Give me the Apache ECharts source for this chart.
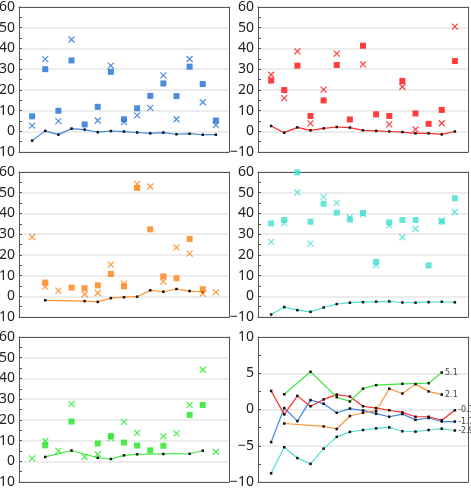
<!DOCTYPE html>
<html>
<head>
<meta charset="utf-8">
<script src="https://cdn.jsdelivr.net/npm/echarts@6/dist/echarts.min.js"></script>
<style>
  html, body { margin: 0; padding: 0; background: #fff; }
  #chart { width: 471px; height: 500px; }
</style>
</head>
<body>
<div id="chart"></div>
<script>
// x positions of the 15 samples
const xPos = [1, 2, 3, 4, 5, 6, 7, 8, 9, 10, 11, 12, 13, 14, 15]

// blue
const blueSquares = [7.2, 30, 9.9, 34.2, 3.3, 11.8, 28.7, 5.8, 11.1, 17.1, 23.1, 17, 31.2, 22.8, 5.2]
const blueCrosses = [2.7, 34.8, 4.9, 44.3, null, 5.2, 31.7, 4.4, 7.7, 11.3, 27, 5.8, 34.9, 14, 3.0]
const blueLine = [-4.5, 0.2, -1.6, 1.3, 0.8, -0.45, 0.13, -0.13, -0.58, -1.0, -0.63, -1.43, -1.17, -1.66, -1.66]

// red
const redSquares = [24.5, 19.9, 31.7, 7.4, 14.9, 32, 5.7, 41.3, 8.2, 7.4, 24.3, 8.6, 3.6, 10.3, 33.9]
const redCrosses = [27.3, 16, 38.6, 3.8, 20.1, 37.5, null, 32.3, null, 3.3, 21.5, 0.9, null, 3.9, 50.5]
const redLine = [2.56, -0.67, 1.88, 0.45, 1.39, 2.06, 1.79, 0.45, 0.2, -0.1, -0.4, -1.0, -1.0, -1.48, -0.1]

// orange
const orangeSquares = [null, 6.6, null, 4.2, 3.9, 5.3, 10.8, 4.8, 52.3, 32.3, 9.6, 8.7, 27.7, 3.4, null]
const orangeCrosses = [28.6, 4.7, 2.7, null, 1.0, 1.6, 15.3, 6.1, 54.3, 53, 7.1, 23.6, 20.6, 1.3, 1.9]
const orangeLine = [null, -1.93, null, null, -2.33, -2.69, -0.9, -0.45, -0.2, 2.87, 2.2, 3.5, 2.5, 2.06, null]

// turquoise
const cyanSquares = [35.2, 36.8, 59.8, 36, 44.7, 40.4, 37.1, 40.2, 16.7, 35.7, 36.8, 36.8, 14.9, 36.1, 47.3]
const cyanCrosses = [26.3, 35.3, 50.1, 25.4, 48, 45.1, 38.1, 39.7, 15.1, 34.2, 28.5, 32.6, null, 36.6, 40.7]
const cyanLine = [-8.8, -5.2, -6.7, -7.5, -5.4, -3.77, -3.09, -2.83, -2.6, -2.47, -3.0, -3.05, -2.83, -2.65, -2.9]

// green
const greenSquares = [null, 7.7, null, 19.2, null, 8.6, 12.2, 9.0, 7.6, 5.3, 7.5, null, 22.4, 27.2, null]
const greenCrosses = [1.4, 9.8, 5.0, 27.7, 2.2, 3.4, 11.2, 19.0, 13.7, null, 12.0, 13.5, 27.2, 44.2, 4.6]
const greenLine = [null, 2.1, null, 5.2, null, 1.7, 1.1, 2.87, 3.36, null, 3.54, null, 3.63, 5.1, null]

const scatterRange = [-10, 60, 10]
const summaryRange = [-10, 10, 5]

const panels = [
  { sq: blueSquares, x: blueCrosses, line: blueLine, color: '#1f6fd4', lineColor: '#3d86e0' },
  { sq: redSquares, x: redCrosses, line: redLine, color: '#ff0d0d', lineColor: '#ff2a2a' },
  { sq: orangeSquares, x: orangeCrosses, line: orangeLine, color: '#ff800e', lineColor: '#ff9233' },
  { sq: cyanSquares, x: cyanCrosses, line: cyanLine, color: '#40dfd0', lineColor: '#4fe0d2' },
  { sq: greenSquares, x: greenCrosses, line: greenLine, color: '#1ee61e', lineColor: '#3ee83e' },
]

const gridPos = [
  [19, 7], [258, 7],
  [19, 172], [258, 172],
  [19, 337], [258, 337],
]

const frameColor = '#555'

const pairs = (vals) =>
  vals.map((v, i) => [xPos[i], v]).filter((p) => p[1] !== null)

const crossPath = 'path://M0,0L10,10M10,0L0,10'

const grid = gridPos.map(([left, top]) => ({
  left,
  top,
  width: 210,
  height: 145,
  outerBoundsMode: 'none',
  containLabel: false,
}))

// bottom + top x axes only draw the frame
const xAxis = []
;['bottom', 'top'].forEach((position) => {
  gridPos.forEach((_, i) => {
    xAxis.push({
      gridIndex: i,
      type: 'value',
      position,
      min: 0,
      max: 16,
      axisLine: { show: true, onZero: false, lineStyle: { color: frameColor, width: 1 } },
      axisTick: { show: false },
      axisLabel: { show: false },
      splitLine: { show: false },
    })
  })
})

const yAxis = []
gridPos.forEach((_, i) => {
  const [min, max, interval] = i === 5 ? summaryRange : scatterRange
  yAxis.push({
    gridIndex: i,
    type: 'value',
    position: 'left',
    min,
    max,
    interval,
    axisLine: { show: true, onZero: false, lineStyle: { color: frameColor, width: 1 } },
    axisTick: { show: true, inside: true, length: 3, lineStyle: { color: frameColor } },
    minorTick: { show: true, splitNumber: 2, length: 3, lineStyle: { color: frameColor } },
    splitLine: { show: true, lineStyle: { color: '#e6e6e6', width: 1.5 } },
    axisLabel: {
      fontFamily: 'Noto Sans',
      fontSize: 14,
      color: '#222',
      margin: 4,
      formatter: (v) => String(v).replace('-', '\u2212'),
    },
  })
})
gridPos.forEach((_, i) => {
  const [min, max] = i === 5 ? summaryRange : scatterRange
  yAxis.push({
    gridIndex: i,
    type: 'value',
    position: 'right',
    min,
    max,
    axisLine: { show: true, onZero: false, lineStyle: { color: frameColor, width: 1 } },
    axisTick: { show: false },
    axisLabel: { show: false },
    splitLine: { show: false },
  })
})

const lineSeries = (p, i, withLabel) => {
  const data = pairs(p.line)
  const last = data.length - 1
  return {
    type: 'line',
    xAxisIndex: i,
    yAxisIndex: i,
    data: data.map((d, k) =>
      withLabel && k === last
        ? {
            value: d,
            label: {
              show: true,
              position: 'right',
              distance: 2,
              fontFamily: 'DejaVu Sans',
              fontSize: 8,
              color: '#444',
              formatter: (o) => o.value[1].toFixed(1),
            },
          }
        : d
    ),
    symbol: 'rect',
    symbolSize: 2.5,
    showSymbol: true,
    itemStyle: { color: '#111', borderWidth: 0 },
    lineStyle: { color: p.lineColor, width: 1.2 },
    z: 2,
  }
}

const series = []
panels.forEach((p, i) => {
  series.push(lineSeries(p, i, false))
  series.push({
    type: 'scatter',
    xAxisIndex: i,
    yAxisIndex: i,
    data: pairs(p.sq),
    symbol: 'rect',
    symbolSize: 6,
    itemStyle: { color: p.color },
    z: 3,
  })
  series.push({
    type: 'scatter',
    xAxisIndex: i,
    yAxisIndex: i,
    data: pairs(p.x),
    symbol: crossPath,
    symbolSize: 6,
    itemStyle: { color: 'none', borderColor: p.color, borderWidth: 1.2 },
    z: 4,
  })
})
panels.forEach((p) => series.push(lineSeries(p, 5, true)))

const chart = echarts.init(document.getElementById('chart'))
chart.setOption({
  animation: false,
  grid,
  xAxis,
  yAxis,
  series,
})
</script>
</body>
</html>
